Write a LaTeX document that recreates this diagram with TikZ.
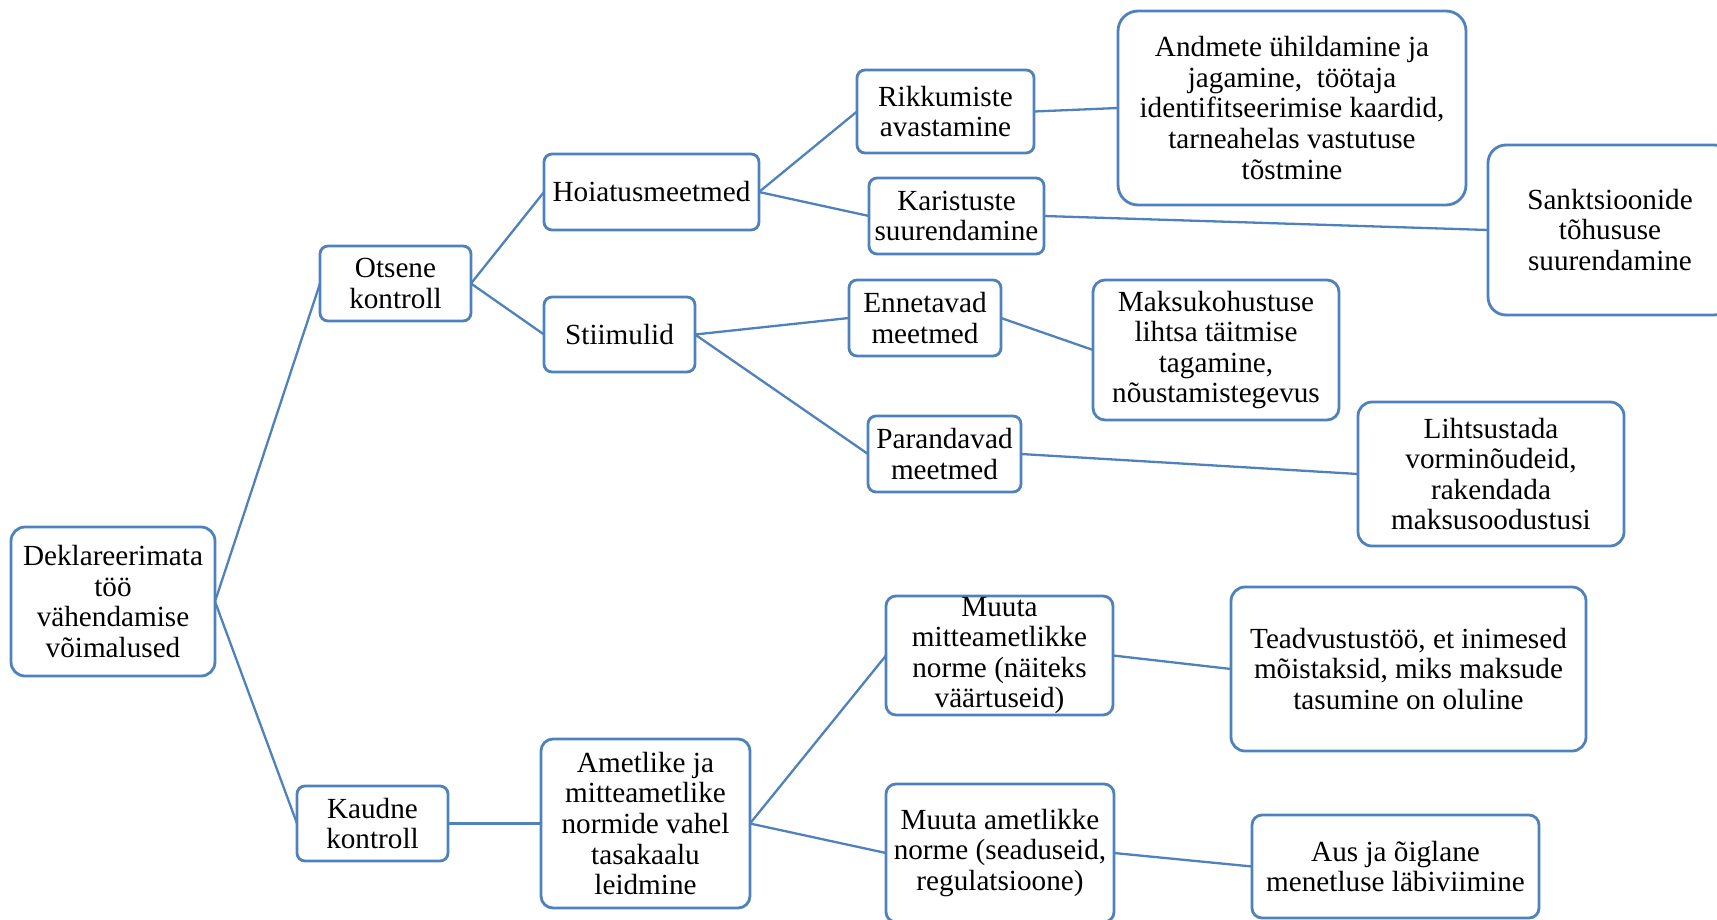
\documentclass[tikz,border=0pt]{standalone}
\usepackage{fontspec}
\setmainfont{Liberation Serif}
\usepackage{xcolor}
\usetikzlibrary{positioning}
\definecolor{smartblue}{RGB}{79,129,189}

\begin{document}
\begin{tikzpicture}[
  every node/.style={draw=smartblue, line width=1.4pt, rounded corners=4pt,
    font=\fontsize{14.6}{15.3}\selectfont, align=center, inner sep=0pt, outer sep=0pt},
  sz/.style 2 args={minimum width=#1, minimum height=#2},
  link/.style={draw=smartblue, line width=1.15pt}
]
\useasboundingbox (0,0) rectangle (858.5pt,-460pt);

\node[sz={102pt}{74.5pt}, rounded corners=7pt] (root) at (56.5pt,-300.75pt)
  {Deklareerimata\\töö\\vähendamise\\võimalused};

% otsene kontroll
\node[sz={75.5pt}{37.5pt}, right=52.5pt of root, yshift=159pt] (otsene) {Otsene\\kontroll};
\node[sz={107.5pt}{38pt}, right=36.5pt of otsene, yshift=45.75pt] (hoiatus) {Hoiatusmeetmed};
\node[sz={75.5pt}{37.5pt}, right=36.5pt of otsene, yshift=-25.5pt] (stiim) {Stiimulid};
\node[sz={88.5pt}{41.5pt}, right=49pt of hoiatus, yshift=40.25pt] (rikk) {Rikkumiste\\avastamine};
\node[sz={87.5pt}{38pt}, right=55pt of hoiatus, yshift=-12pt] (karist) {Karistuste\\suurendamine};
\node[sz={174pt}{97pt}, rounded corners=10pt, right=42pt of rikk, yshift=1.75pt] (andmed)
  {Andmete ühildamine ja\\jagamine,~ töötaja\\identifitseerimise kaardid,\\tarneahelas vastutuse\\tõstmine};
\node[sz={122pt}{85pt}, rounded corners=9pt, right=222pt of karist, yshift=-7pt] (sankt)
  {Sanktsioonide\\tõhususe\\suurendamine};
\node[sz={76pt}{38pt}, right=77pt of stiim, yshift=8.25pt] (ennet) {Ennetavad\\meetmed};
\node[sz={76.5pt}{38pt}, right=86.5pt of stiim, yshift=-59.75pt] (parand) {Parandavad\\meetmed};
\node[sz={123pt}{70pt}, rounded corners=6pt, right=46pt of ennet, yshift=-16pt] (maksu)
  {Maksukohustuse\\lihtsa täitmise\\tagamine,\\nõustamistegevus};
\node[sz={133pt}{72pt}, rounded corners=7pt, right=168.5pt of parand, yshift=-10pt] (lihts)
  {Lihtsustada\\vorminõudeid,\\rakendada\\maksusoodustusi};

% kaudne kontroll
\node[sz={75.5pt}{37.5pt}, right=41pt of root, yshift=-111pt] (kaudne) {Kaudne\\kontroll};
\node[sz={104.5pt}{84.5pt}, rounded corners=6pt, right=46.5pt of kaudne] (tasak)
  {Ametlike ja\\mitteametlike\\normide vahel\\tasakaalu\\leidmine};
\node[sz={113.5pt}{59.5pt}, rounded corners=5pt, right=68pt of tasak, yshift=84pt] (mitteam)
  {Muuta\\mitteametlikke\\norme (näiteks\\väärtuseid)};
\node[sz={114pt}{69pt}, rounded corners=5pt, right=68pt of tasak, yshift=-14.75pt] (ametl)
  {Muuta ametlikke\\norme (seaduseid,\\regulatsioone)};
\node[sz={177.5pt}{82pt}, rounded corners=7pt, right=59pt of mitteam, yshift=-6.75pt] (teadv)
  {Teadvustustöö, et inimesed\\mõistaksid, miks maksude\\tasumine on oluline};
\node[sz={143.5pt}{51.5pt}, rounded corners=5pt, right=69pt of ametl, yshift=-6.75pt] (aus)
  {Aus ja õiglane\\menetluse läbiviimine};

\draw[link] (root.east) -- (otsene.west);
\draw[link] (root.east) -- (kaudne.west);
\draw[link] (otsene.east) -- (hoiatus.west);
\draw[link] (otsene.east) -- (stiim.west);
\draw[link] (hoiatus.east) -- (rikk.west);
\draw[link] (hoiatus.east) -- (karist.west);
\draw[link] (rikk.east) -- (andmed.west);
\draw[link] (karist.east) -- (sankt.west);
\draw[link] (stiim.east) -- (ennet.west);
\draw[link] (stiim.east) -- (parand.west);
\draw[link] (ennet.east) -- (maksu.west);
\draw[link] (parand.east) -- (lihts.west);
\draw[link] (kaudne.east) -- (tasak.west);
\draw[link] (tasak.east) -- (mitteam.west);
\draw[link] (tasak.east) -- (ametl.west);
\draw[link] (mitteam.east) -- (teadv.west);
\draw[link] (ametl.east) -- (aus.west);
\end{tikzpicture}
\end{document}
